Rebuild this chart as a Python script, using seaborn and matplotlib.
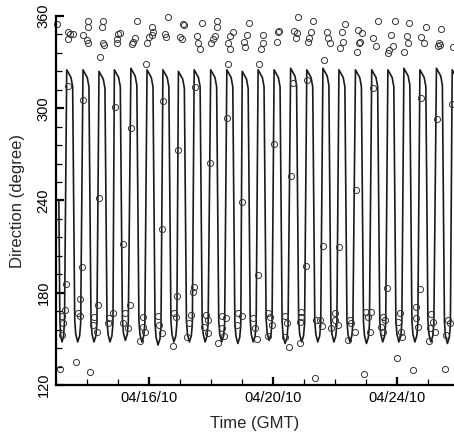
import pandas as pd
import seaborn as sns
import matplotlib.pyplot as plt
import matplotlib.dates as mdates

# tidal current direction, hours after 04/13/10 00:00 GMT
line_hours = [
    2.2, 3.0, 3.6, 4.7, 5.9, 6.6,
    8.3, 11.6, 12.9, 14.5, 15.3, 16.8, 18.3, 19.1,
    20.9, 24.2, 25.5, 27.1, 27.9, 29.4, 30.9, 31.7,
    33.3, 36.6, 37.9, 39.5, 40.3, 41.8, 43.3, 44.1,
    45.2, 48.5, 49.8, 51.4, 52.2, 53.7, 55.2, 56.0,
    58.0, 61.3, 62.6, 64.2, 65.0, 66.5, 68.0, 68.8,
    70.5, 73.8, 75.1, 76.7, 77.5, 79.0, 80.5, 81.3,
    82.8, 86.1, 87.4, 89.0, 89.8, 91.3, 92.8, 93.6,
    94.8, 98.1, 99.4, 101.0, 101.8, 103.3, 104.8, 105.6,
    107.0, 110.3, 111.6, 113.2, 114.0, 115.5, 117.0, 117.8,
    119.8, 123.1, 124.4, 126.0, 126.8, 128.3, 129.8, 130.6,
    132.3, 135.6, 136.9, 138.5, 139.3, 140.8, 142.3, 143.1,
    144.2, 147.5, 148.8, 150.4, 151.2, 152.7, 154.2, 155.0,
    156.5, 159.8, 161.1, 162.7, 163.5, 165.0, 166.5, 167.3,
    168.9, 172.2, 173.5, 175.1, 175.9, 177.4, 178.9, 179.7,
    181.7, 185.0, 186.3, 187.9, 188.7, 190.2, 191.7, 192.5,
    194.2, 197.5, 198.8, 200.4, 201.2, 202.7, 204.2, 205.0,
    206.7, 210.0, 211.3, 212.9, 213.7, 215.2, 216.7, 217.5,
    219.1, 222.4, 223.7, 225.3, 226.1, 227.6, 229.1, 229.9,
    231.9, 235.2, 236.5, 238.1, 238.9, 240.4, 241.9, 242.7,
    244.5, 247.8, 249.1, 250.7, 251.5, 253.0, 254.5, 255.3,
    257.0, 260.3, 261.6, 263.2, 264.0, 265.5, 267.0, 267.8,
    269.4, 272.7, 274.0, 275.6, 276.4, 277.9, 279.4, 280.2,
    281.8, 285.1, 286.4, 288.0, 288.8, 290.3, 291.8, 292.6,
    294.6, 297.9, 299.2, 300.8, 301.6, 303.1, 304.6, 305.4,
    306.8, 310.1, 311.4,
]
line_deg = [
    240, 162, 152, 148, 152, 162,
    325, 320, 314, 162, 153, 148, 152, 160,
    325, 320, 314, 162, 153, 148, 152, 160,
    324, 319, 313, 162, 153, 148, 152, 160,
    325, 320, 314, 163, 154, 149, 153, 161,
    326, 321, 315, 162, 153, 148, 152, 160,
    325, 320, 314, 160, 151, 146, 150, 158,
    325, 320, 314, 162, 153, 148, 152, 160,
    324, 319, 313, 162, 153, 148, 152, 160,
    325, 320, 314, 162, 153, 148, 152, 160,
    325, 320, 314, 162, 153, 148, 152, 160,
    325, 320, 314, 161, 152, 147, 151, 159,
    324, 319, 313, 162, 153, 148, 152, 160,
    325, 320, 314, 163, 154, 149, 153, 161,
    325, 320, 314, 161, 152, 147, 151, 159,
    326, 321, 315, 162, 153, 148, 152, 160,
    325, 320, 314, 162, 153, 148, 152, 160,
    326, 321, 315, 162, 153, 148, 152, 160,
    325, 320, 314, 162, 153, 148, 152, 160,
    325, 320, 314, 161, 152, 147, 151, 159,
    325, 320, 314, 162, 153, 148, 152, 160,
    325, 320, 314, 162, 153, 148, 152, 160,
    326, 321, 315, 162, 153, 148, 152, 160,
    325, 320, 314, 162, 153, 148, 152, 160,
    326, 321, 315, 161, 152, 147, 151, 159,
    325, 320, 314,
]

# observed directions (circles)
obs_hours = [
    1.0, 9.5, 10.8, 13.4, 9.5, 25.0, 25.0, 21.1, 23.8, 25.0,
    36.6, 35.4, 36.1, 37.0, 34.1, 48.2, 49.5, 47.0, 47.5,
    58.6, 59.8, 61.1, 62.5, 70.2, 72.2, 74.1, 74.1, 75.3, 69.7,
    86.9, 84.4, 85.1, 96.0, 97.3, 98.5, 98.8,
    108.9, 110.1, 111.5, 112.8, 119.7, 121.8, 124.4, 124.9, 123.1,
    133.4, 132.9, 134.7, 136.8, 134.7, 149.6, 147.6, 145.5, 146.3,
    160.5, 160.5, 158.4, 157.4, 172.1, 170.8, 172.6,
    187.5, 184.2, 186.3, 185.8, 199.2, 197.1, 196.1, 195.3,
    209.5, 210.8, 212.1, 207.7, 223.7, 221.1, 222.4, 219.8,
    234.0, 236.6, 235.3, 232.7, 234.8, 249.0, 245.6, 247.7,
    262.4, 259.8, 260.6, 258.0, 257.2, 273.5, 271.5, 272.7, 269.6,
    286.4, 283.0, 284.8, 298.5, 296.7, 295.9, 297.2, 307.5,
    9.5, 21.1, 45.7, 58.0, 33.3, 94.7, 107.6, 119.2, 132.1, 83.1,
    143.7, 168.7, 181.6, 183.2, 194.5, 232.2, 245.1, 282.5, 295.1, 307.0,
    206.9, 219.0, 193.5, 156.6, 256.7, 281.7,
    7.5, 19.9, 18.6, 51.6, 81.8, 93.4, 107.1, 105.8, 32.8, 57.3,
    3.1, 7.0, 4.4, 5.7, 4.4, 15.5, 17.3, 18.6, 26.0,
    29.7, 28.9, 31.5, 44.4, 41.3, 40.6, 53.5, 52.2, 56.0,
    65.1, 67.1, 67.6, 68.9, 79.3, 80.0, 81.8, 91.4, 92.9, 90.3,
    104.3, 103.0, 101.7, 116.1, 118.0, 114.6, 118.0, 125.7,
    128.3, 128.3, 131.6, 130.0,
    141.1, 143.7, 139.8, 152.7, 154.0, 164.3, 165.6, 166.9, 164.3,
    177.2, 178.5, 177.2, 190.1, 188.8, 190.1, 201.7, 204.3, 205.6,
    215.9, 215.9, 213.3, 218.5, 227.5, 228.8, 231.4,
    240.4, 241.7, 244.3, 243.0, 253.3, 254.6, 252.0, 253.3,
    266.2, 264.9, 267.5, 268.3, 279.1, 279.1, 280.4,
    290.7, 292.0, 289.4, 293.3, 303.6, 304.9, 302.3,
    263.7, 238.4, 276.1, 301.4, 200.5, 180.3, 188.9, 226.3, 288.7, 155.3,
]
obs_deg = [
    354.8, 349.8, 348.1, 348.3, 344.8, 356.7, 353.0, 347.4, 344.4, 342.2,
    356.7, 352.6, 342.2, 341.0, 333.5, 348.1, 349.2, 344.8, 342.6,
    341.6, 343.3, 345.5, 357.0, 342.2, 346.1, 353.0, 347.6, 349.4, 328.8,
    359.1, 348.1, 346.1, 346.6, 344.8, 354.8, 354.0,
    347.0, 342.6, 338.3, 355.6, 342.2, 344.8, 356.7, 353.0, 347.0,
    342.2, 328.8, 347.0, 349.8, 338.5, 355.6, 347.6, 343.3, 340.0,
    347.6, 342.2, 338.5, 328.8, 349.4, 343.3, 350.2,
    359.5, 350.5, 348.7, 345.5, 356.7, 349.8, 345.5, 343.3,
    349.8, 345.5, 342.6, 331.4, 354.8, 349.4, 343.3, 339.0,
    350.9, 348.7, 343.3, 336.8, 342.2, 356.7, 345.5, 340.5,
    356.7, 347.6, 340.5, 337.9, 336.1, 355.6, 347.0, 342.6, 336.8,
    352.6, 346.1, 342.6, 351.5, 342.6, 340.5, 341.1, 340.0,
    314.5, 305.4, 300.8, 287.0, 241.6, 272.8, 314.0, 264.6, 293.9, 305.0,
    239.2, 276.7, 256.0, 316.2, 318.4, 246.8, 313.0, 306.9, 293.0, 302.8,
    210.6, 209.6, 197.6, 191.5, 182.9, 182.4,
    185.7, 197.0, 175.7, 211.7, 221.5, 177.9, 183.5, 180.7, 172.0, 172.0,
    130.6, 168.8, 164.9, 160.5, 152.5, 135.0, 166.6, 164.9, 128.7,
    164.4, 159.0, 154.7, 166.6, 163.4, 160.5, 167.0, 160.1, 156.9,
    148.6, 164.4, 157.9, 154.7, 164.9, 159.0, 153.6, 167.0, 164.0, 145.6,
    165.5, 160.1, 151.4, 165.5, 162.3, 158.0, 153.6, 147.5,
    164.9, 156.9, 163.8, 152.0,
    167.0, 164.9, 159.0, 163.4, 156.9, 167.0, 164.4, 159.0, 151.9,
    164.9, 160.1, 151.4, 167.7, 161.2, 164.4, 162.3, 162.3, 158.4,
    166.6, 162.3, 156.9, 159.0, 162.3, 160.1, 154.7,
    167.7, 164.4, 167.7, 154.3, 164.4, 162.3, 158.0, 154.7,
    166.6, 161.2, 154.7, 151.4, 170.9, 163.4, 158.0,
    166.0, 161.2, 156.9, 154.7, 162.3, 160.1, 152.5,
    137.8, 127.4, 129.5, 130.6, 124.8, 144.9, 147.5, 149.3, 148.6, 149.7,
]

start = pd.Timestamp('2010-04-13')
df_line = pd.DataFrame({'time': start + pd.to_timedelta(line_hours, unit='h'),
                        'dir': line_deg})
df_obs = pd.DataFrame({'time': start + pd.to_timedelta(obs_hours, unit='h'),
                       'dir': obs_deg})

sns.set_style('ticks')
plt.rcParams['font.family'] = ['Liberation Sans', 'DejaVu Sans']

fig = plt.figure(figsize=(4.54, 4.36), dpi=100)
ax = fig.add_axes([56 / 454, 51 / 436, 398 / 454, 369 / 436])

sns.lineplot(data=df_line, x='time', y='dir', ax=ax, sort=False, estimator=None,
             color='#1a1a1a', linewidth=1.2)
ax.plot(df_obs['time'], df_obs['dir'], 'o', mfc='none', mec='#333333',
        mew=0.7, ms=4.4, clip_on=False)

ax.set_xlim(start, start + pd.Timedelta(hours=308.2))
ax.set_ylim(120, 360)
ax.set_yticks([120, 180, 240, 300, 360])
ax.set_yticks(range(120, 361, 12), minor=True)
ax.xaxis.set_major_locator(mdates.DayLocator(bymonthday=[16, 20, 24]))
ax.xaxis.set_minor_locator(mdates.DayLocator())
ax.xaxis.set_major_formatter(mdates.DateFormatter('%m/%d/%y'))

for s in ['top', 'right']:
    ax.spines[s].set_visible(False)
for s in ['left', 'bottom']:
    ax.spines[s].set_linewidth(1.6)
    ax.spines[s].set_color('black')

ax.tick_params(which='major', direction='in', length=6, width=1.6,
               labelsize=10.5, pad=4, colors='black')
ax.tick_params(which='minor', direction='in', length=4, width=0.9, colors='black')
ax.tick_params(axis='y', labelrotation=90)
for lbl in ax.get_yticklabels():
    lbl.set_va('center')

ax.set_xlabel('Time (GMT)', fontsize=12, labelpad=8)
ax.set_ylabel('Direction (degree)', fontsize=12, labelpad=8)

fig.savefig('out.png', dpi=100)
